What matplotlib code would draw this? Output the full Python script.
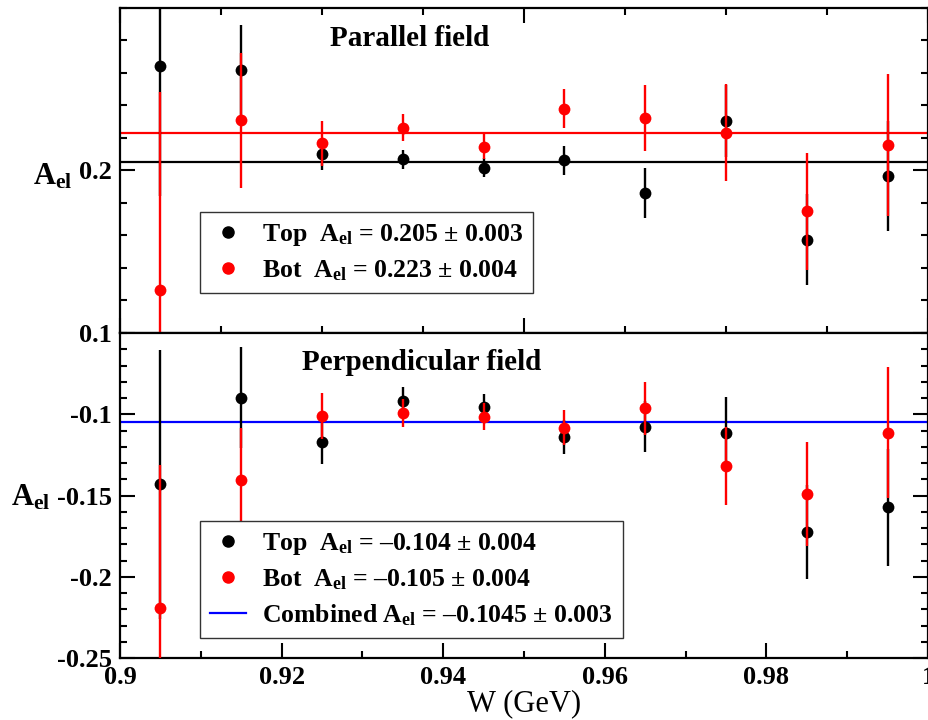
"""Electron asymmetry vs W, parallel and perpendicular field"""

import matplotlib
matplotlib.use("Agg")
import matplotlib.pyplot as plt
from matplotlib.lines import Line2D
from matplotlib.ticker import MultipleLocator, FixedLocator, FuncFormatter

plt.rcParams["font.family"] = ["Liberation Serif", "DejaVu Serif"]
plt.rcParams["font.weight"] = "bold"
plt.rcParams["mathtext.fontset"] = "custom"
plt.rcParams["mathtext.rm"] = "Liberation Serif:bold"
plt.rcParams["mathtext.bf"] = "Liberation Serif:bold"
plt.rcParams["mathtext.it"] = "Liberation Serif:bold"
plt.rcParams["axes.unicode_minus"] = False

# data
w_bins = [0.905, 0.915, 0.925, 0.935, 0.945, 0.955, 0.965, 0.975, 0.985, 0.995]

par_top = [0.2644, 0.2617, 0.2103, 0.2068, 0.2017, 0.2062, 0.1862, 0.2304, 0.1574, 0.1965]
par_top_err = [0.080, 0.028, 0.010, 0.006, 0.006, 0.0088, 0.0154, 0.022, 0.028, 0.034]
par_bot = [0.1265, 0.2309, 0.2167, 0.2264, 0.2146, 0.2381, 0.2321, 0.2233, 0.1749, 0.2156]
par_bot_err = [0.122, 0.0415, 0.014, 0.0083, 0.0077, 0.012, 0.0203, 0.030, 0.036, 0.0435]
par_fit_top = 0.205
par_fit_bot = 0.223

perp_top = [-0.1432, -0.0897, -0.1173, -0.0918, -0.0957, -0.1142, -0.1076, -0.1118, -0.1726, -0.1572]
perp_top_err = [0.083, 0.031, 0.0135, 0.0083, 0.008, 0.0104, 0.0155, 0.0223, 0.029, 0.036]
perp_bot = [-0.2191, -0.1402, -0.101, -0.0994, -0.1014, -0.1082, -0.0963, -0.1318, -0.1489, -0.1113]
perp_bot_err = [0.088, 0.0315, 0.014, 0.0087, 0.0083, 0.011, 0.0163, 0.0238, 0.032, 0.0402]
perp_fit_comb = -0.1045

par_labels = [r"Top  $\mathbf{A}_{\mathbf{el}}$ = 0.205 ± 0.003",
              r"Bot  $\mathbf{A}_{\mathbf{el}}$ = 0.223 ± 0.004"]
perp_labels = [r"Top  $\mathbf{A}_{\mathbf{el}}$ = –0.104 ± 0.004",
               r"Bot  $\mathbf{A}_{\mathbf{el}}$ = –0.105 ± 0.004",
               r"Combined $\mathbf{A}_{\mathbf{el}}$ = –0.1045 ± 0.003"]

RED = "#ff0000"
BLUE = "#0000ff"
fs_tick = 19
fs_leg = 18.5

fig = plt.figure(figsize=(9.29, 7.2), dpi=100)
ax1 = fig.add_axes([0.1292, 0.5375, 0.8698, 0.4514])
ax2 = fig.add_axes([0.1292, 0.0861, 0.8698, 0.4514])

eb_kw = dict(fmt="o", ms=8.5, elinewidth=1.7, capsize=2.6, capthick=1.8, mew=0)


def style_axis(ax):
  for sp in ax.spines.values():
    sp.set_linewidth(1.6)
  ax.tick_params(which="both", direction="in", width=1.5, left=True, right=True,
                 labelsize=fs_tick)
  ax.tick_params(which="major", length=11, pad=6)
  ax.tick_params(which="minor", length=5)
  ax.set_xlim(0.9, 1.0)


# top panel
ax1.axhline(par_fit_top, color="black", lw=1.6, zorder=1)
ax1.axhline(par_fit_bot, color=RED, lw=1.6, zorder=1)
ax1.errorbar(w_bins, par_top, yerr=par_top_err, color="black", zorder=2, **eb_kw)
ax1.errorbar(w_bins, par_bot, yerr=par_bot_err, color=RED, zorder=3, **eb_kw)
style_axis(ax1)
ax1.set_ylim(0.1, 0.3)
ax1.yaxis.set_major_locator(FixedLocator([0.1, 0.2]))
ax1.yaxis.set_minor_locator(MultipleLocator(0.02))
ax1.yaxis.set_major_formatter(FuncFormatter(lambda v, p: "%g" % v))
ax1.xaxis.set_major_locator(MultipleLocator(0.05))
ax1.xaxis.set_minor_locator(MultipleLocator(0.0125))
ax1.tick_params(axis="x", which="both", top=True, bottom=True, labelbottom=False)
ax1.text(0.358, 0.905, "Parallel field", transform=ax1.transAxes, ha="center",
         va="center", fontsize=21, fontweight="bold")
h1 = [Line2D([], [], ls="none", marker="o", ms=8, color="black"),
      Line2D([], [], ls="none", marker="o", ms=8, color=RED)]
ax1.legend(h1, par_labels, loc="upper left", bbox_to_anchor=(0.099, 0.373),
           borderaxespad=0, fancybox=False, edgecolor="#333333", framealpha=1,
           prop=dict(size=fs_leg, weight="bold"), handlelength=1.4,
           handletextpad=0.6, borderpad=0.4, labelspacing=0.4)

# bottom panel
ax2.axhline(perp_fit_comb, color=BLUE, lw=1.6, zorder=1)
ax2.errorbar(w_bins, perp_top, yerr=perp_top_err, color="black", zorder=2, **eb_kw)
ax2.errorbar(w_bins, perp_bot, yerr=perp_bot_err, color=RED, zorder=3, **eb_kw)
style_axis(ax2)
ax2.set_ylim(-0.25, -0.05)
ax2.yaxis.set_major_locator(FixedLocator([-0.25, -0.2, -0.15, -0.1]))
ax2.yaxis.set_minor_locator(MultipleLocator(0.01))
ax2.yaxis.set_major_formatter(FuncFormatter(lambda v, p: "%g" % v))
ax2.xaxis.set_major_locator(MultipleLocator(0.02))
ax2.xaxis.set_minor_locator(MultipleLocator(0.01))
ax2.xaxis.set_major_formatter(FuncFormatter(lambda v, p: "%g" % round(v, 4)))
ax2.tick_params(axis="x", which="both", top=False, bottom=True)
ax2.text(0.373, 0.908, "Perpendicular field", transform=ax2.transAxes, ha="center",
         va="center", fontsize=21, fontweight="bold")
h2 = [Line2D([], [], ls="none", marker="o", ms=8, color="black"),
      Line2D([], [], ls="none", marker="o", ms=8, color=RED),
      Line2D([], [], color=BLUE, lw=1.6)]
ax2.legend(h2, perp_labels, loc="upper left", bbox_to_anchor=(0.099, 0.4225),
           borderaxespad=0, fancybox=False, edgecolor="#333333", framealpha=1,
           prop=dict(size=fs_leg, weight="bold"), handlelength=1.4,
           handletextpad=0.6, borderpad=0.4, labelspacing=0.4)
ax2.set_xlabel("W (GeV)", fontsize=22, fontweight="normal", labelpad=0)

# y labels
fig.text(33 / 929, 1 - 177 / 720, r"$\mathbf{A}_{\mathbf{el}}$", fontsize=22,
         ha="left", va="center")
fig.text(11 / 929, 1 - 498 / 720, r"$\mathbf{A}_{\mathbf{el}}$", fontsize=22,
         ha="left", va="center")

fig.savefig("out.png", dpi=100)
